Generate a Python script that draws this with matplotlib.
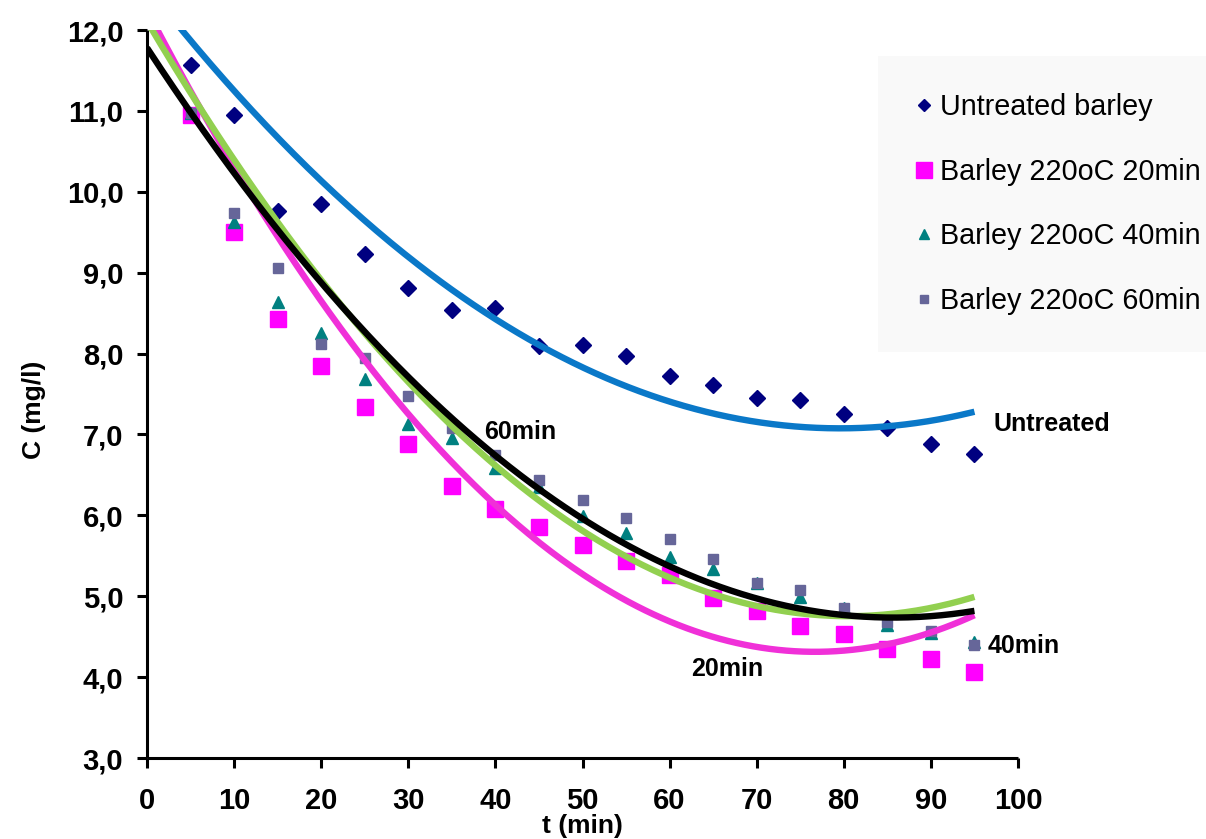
import numpy as np
import matplotlib
matplotlib.use("Agg")
import matplotlib.pyplot as plt
from matplotlib.lines import Line2D

plt.rcParams['font.family'] = ['Liberation Sans', 'DejaVu Sans']

# Sampling times (min)
t = [5, 10, 15, 20, 25, 30, 35, 40, 45, 50, 55, 60, 65, 70, 75, 80, 85, 90, 95]

# Concentration C (mg/l)
c_untreated = [11.57, 10.95, 9.76, 9.85, 9.23, 8.81, 8.54, 8.56, 8.09, 8.11,
               7.97, 7.72, 7.61, 7.45, 7.43, 7.25, 7.08, 6.88, 6.76]
c_20min = [10.95, 9.50, 8.43, 7.85, 7.34, 6.88, 6.36, 6.08, 5.86, 5.63,
           5.44, 5.26, 4.98, 4.82, 4.63, 4.53, 4.35, 4.22, 4.06]
c_40min = [10.97, 9.63, 8.64, 8.25, 7.69, 7.13, 6.95, 6.58, 6.35, 5.99,
           5.78, 5.49, 5.34, 5.16, 4.99, 4.86, 4.65, 4.55, 4.44]
c_60min = [10.98, 9.74, 9.06, 8.12, 7.95, 7.48, 7.08, 6.75, 6.44, 6.19,
           5.97, 5.71, 5.46, 5.16, 5.08, 4.86, 4.68, 4.57, 4.40]

# Second-order trend lines: coefficients [a, b, c] of a*t^2 + b*t + c
fit_untreated = [0.000862, -0.1372, 12.535]
fit_20min = [0.001349, -0.2069, 12.246]
fit_40min = [0.001135, -0.18274, 12.109]
fit_60min = [0.000959, -0.16438, 11.78]

series_labels = ["Untreated barley", "Barley 220oC 20min",
                 "Barley 220oC 40min", "Barley 220oC 60min"]
curve_labels = ["Untreated", "20min", "40min", "60min"]

y_ticks = [3, 4, 5, 6, 7, 8, 9, 10, 11, 12]
x_ticks = [0, 10, 20, 30, 40, 50, 60, 70, 80, 90, 100]

W, H = 1206, 839
fig = plt.figure(figsize=(W / 100, H / 100), dpi=100)
ax = fig.add_axes([147 / W, 1 - 758 / H, (1018 - 147) / W, (758 - 30) / H])

# Measured points
ax.plot(t, c_untreated, ls='none', marker='D', ms=8.4, color='#000080',
        mec='#000080', zorder=3)
ax.plot(t, c_20min, ls='none', marker='s', ms=12, color='#FF00FF',
        mec='#FF00FF', zorder=3)
ax.plot(t, c_40min, ls='none', marker='^', ms=8, color='#008080',
        mec='#008080', zorder=4)
ax.plot(t, c_60min, ls='none', marker='s', ms=6.5, color='#666699',
        mec='#666699', zorder=5)

# Trend lines
tt = np.linspace(0, 95, 300)
lw = 4.6
ax.plot(tt, np.polyval(fit_untreated, tt), color='#0A78C8', lw=lw, zorder=6,
        solid_capstyle='butt')
ax.plot(tt, np.polyval(fit_20min, tt), color='#F030D8', lw=lw, zorder=6,
        solid_capstyle='butt')
ax.plot(tt, np.polyval(fit_40min, tt), color='#92D050', lw=lw, zorder=7,
        solid_capstyle='butt')
ax.plot(tt, np.polyval(fit_60min, tt), color='black', lw=lw, zorder=8,
        solid_capstyle='butt')

# Curve labels
ann_kw = dict(fontsize=18, fontweight='bold', color='black', zorder=10)
ax.text(97.2, 7.13, curve_labels[0], ha='left', va='center', **ann_kw)
ax.text(62.5, 4.1, curve_labels[1], ha='left', va='center', **ann_kw)
ax.text(96.5, 4.39, curve_labels[2], ha='left', va='center', **ann_kw)
ax.text(38.7, 7.03, curve_labels[3], ha='left', va='center', **ann_kw)

ax.set_xlim(0, 100)
ax.set_ylim(3, 12)
ax.set_xticks(x_ticks)
ax.set_yticks(y_ticks)
ax.set_yticklabels([f"{v:.1f}".replace('.', ',') for v in y_ticks])
ax.set_xticklabels([str(v) for v in x_ticks])

for s in ['top', 'right']:
    ax.spines[s].set_visible(False)
for s in ['left', 'bottom']:
    ax.spines[s].set_linewidth(2.2)
    ax.spines[s].set_capstyle('butt')

ax.tick_params(axis='both', direction='out', length=7, width=2.2,
               colors='black')
ax.tick_params(axis='y', pad=10, labelsize=21)
ax.tick_params(axis='x', pad=14, labelsize=21)
for lab in ax.get_xticklabels() + ax.get_yticklabels():
    lab.set_fontweight('bold')

ax.set_xlabel("t (min)", fontsize=19, fontweight='bold', va='center')
ax.xaxis.set_label_coords(0.5, -(826 - 758) / 728)
ax.set_ylabel("C (mg/l)", fontsize=19, fontweight='bold')
ax.yaxis.set_label_coords(-(147 - 46) / 871, 0.478)

# Legend for the measured series
handles = [
    Line2D([], [], ls='none', marker='D', ms=6.5, color='#000080'),
    Line2D([], [], ls='none', marker='s', ms=11, color='#FF00FF'),
    Line2D([], [], ls='none', marker='^', ms=6.5, color='#008080'),
    Line2D([], [], ls='none', marker='s', ms=6, color='#666699'),
]
leg = fig.legend(handles, series_labels, loc='upper left',
                 bbox_to_anchor=(878 / W, 1 - 56 / H),
                 frameon=True, fancybox=False, framealpha=1,
                 facecolor='#F9F9F9', edgecolor='#F9F9F9',
                 fontsize=20.7, handlelength=0.6, handletextpad=0.25,
                 labelspacing=1.27, borderpad=1.3, borderaxespad=0)
leg.get_frame().set_linewidth(0)

fig.savefig("out.png", dpi=100)
